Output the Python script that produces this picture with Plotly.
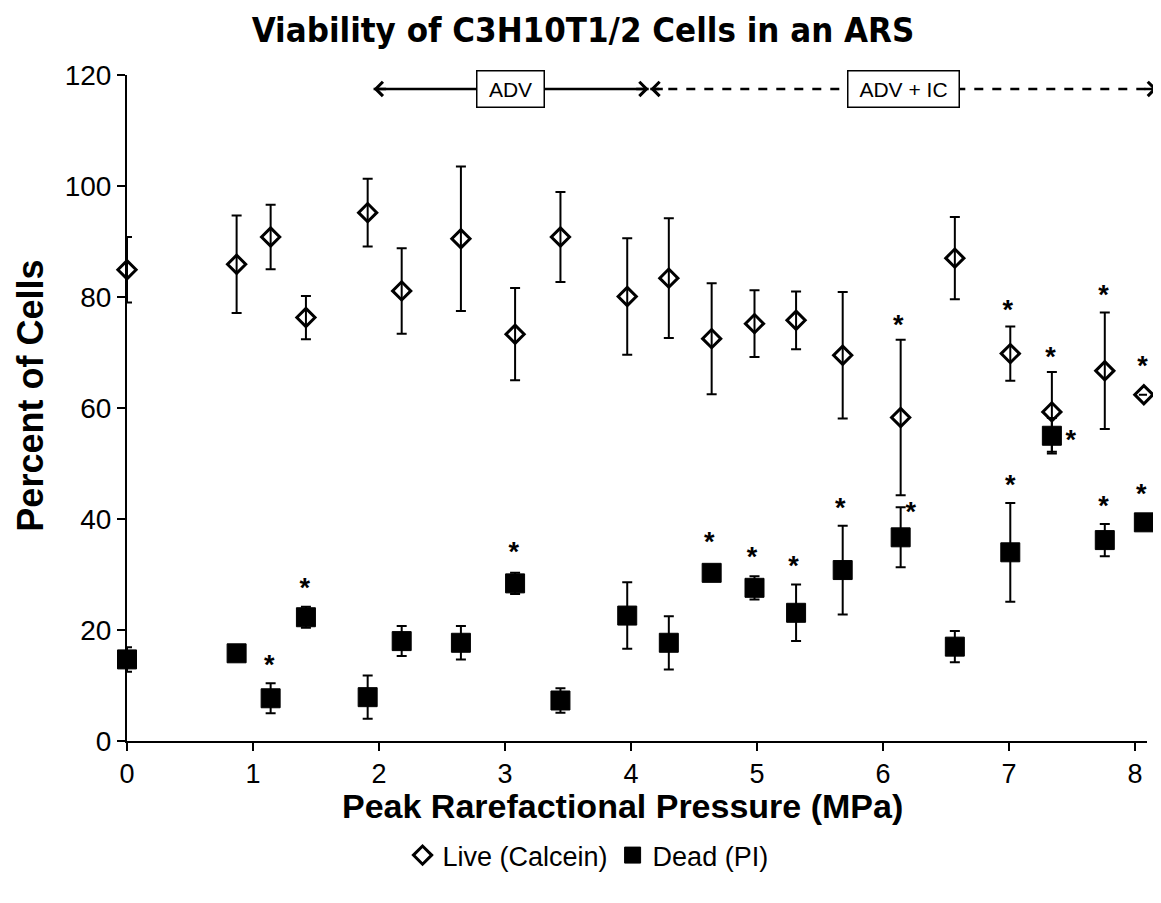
import plotly.graph_objects as go

# ---------------- data ----------------
pressure = [0.0, 0.87, 1.14, 1.42, 1.91, 2.18, 2.65, 3.08, 3.44, 3.97, 4.30,
            4.64, 4.98, 5.31, 5.68, 6.14, 6.57, 7.01, 7.34, 7.76, 8.07]

live = [84.9, 85.9, 90.8, 76.3, 95.2, 81.1, 90.5, 73.3, 90.8, 80.1, 83.4,
        72.5, 75.2, 75.8, 69.5, 58.3, 87.0, 69.8, 59.3, 66.7, 62.4]
live_err = [5.9, 8.8, 5.8, 3.9, 6.1, 7.7, 13.0, 8.3, 8.1, 10.5, 10.8,
            10.0, 6.0, 5.2, 11.4, 14.0, 7.4, 4.9, 7.2, 10.5, 0.0]

dead = [14.7, 15.8, 7.7, 22.3, 7.9, 18.0, 17.7, 28.4, 7.3, 22.6, 17.7,
        30.3, 27.6, 23.1, 30.8, 36.7, 17.0, 34.0, 55.0, 36.2, 39.4]
dead_err = [2.2, 0.8, 2.7, 1.9, 3.9, 2.7, 3.0, 1.9, 2.2, 6.0, 4.8,
            1.0, 2.1, 5.1, 8.0, 5.4, 2.8, 8.9, 3.2, 2.9, 0.5]

# significance stars (position of the "*" marks)
live_star_x = [6.12, 6.99, 7.33, 7.75, 8.06]
live_star_y = [75.7, 78.4, 69.9, 81.1, 68.3]
dead_star_x = [1.13, 1.41, 3.07, 4.62, 4.96, 5.29, 5.66, 6.22, 7.01, 7.49, 7.75, 8.05]
dead_star_y = [14.5, 28.4, 34.8, 36.6, 33.9, 32.3, 42.8, 42.1, 46.9, 55.1, 43.2, 45.3]

x_ticks = [0, 1, 2, 3, 4, 5, 6, 7, 8]
y_ticks = [0, 20, 40, 60, 80, 100, 120]

# regime bands on top
adv_range = [1.957, 4.14]
adv_ic_range = [4.153, 8.175]
band_y = 117.5
adv_label_x = 3.046
adv_ic_label_x = 6.164

title = "Viability of C3H10T1/2 Cells in an ARS"
x_title = "Peak Rarefactional Pressure (MPa)"
y_title = "Percent of Cells"

X_RANGE = [0, 8.095]
Y_RANGE = [0, 120]

FONT = "Liberation Sans, Arial, Helvetica, sans-serif"
NARROW = "Liberation Sans Narrow, Arial Narrow, DejaVu Sans Condensed, Liberation Sans, sans-serif"

# page has an 8px body margin -> figure is 1153 x 895
W, H = 1153, 895
ML, MT, MR = 119, 67, 14
PLOT_H = 666
MB = H - MT - PLOT_H


def xp(v):
    return (v - X_RANGE[0]) / (X_RANGE[1] - X_RANGE[0])


def yp(v):
    return (v - Y_RANGE[0]) / (Y_RANGE[1] - Y_RANGE[0])


fig = go.Figure()

fig.add_trace(go.Scatter(
    x=pressure, y=live, mode="markers", name="Live (Calcein)",
    marker=dict(symbol="diamond-open", size=14, color="black",
                line=dict(width=3, color="black")),
    error_y=dict(type="data", array=live_err, visible=True,
                 color="black", thickness=2, width=5),
    cliponaxis=False,
))

fig.add_trace(go.Scatter(
    x=pressure, y=dead, mode="markers", name="Dead (PI)",
    marker=dict(symbol="square", size=19, color="black",
                line=dict(width=1, color="black")),
    error_y=dict(type="data", array=dead_err, visible=True,
                 color="black", thickness=2, width=5),
    cliponaxis=False,
))

star_font = dict(family=FONT, size=27, color="black", weight="bold")
fig.add_trace(go.Scatter(
    x=live_star_x, y=[v - 1.2 for v in live_star_y], mode="text", text=["*"] * len(live_star_x),
    textfont=star_font, showlegend=False, hoverinfo="skip", cliponaxis=False,
))
fig.add_trace(go.Scatter(
    x=dead_star_x, y=[v - 1.2 for v in dead_star_y], mode="text", text=["*"] * len(dead_star_x),
    textfont=star_font, showlegend=False, hoverinfo="skip", cliponaxis=False,
))

shapes = [
    dict(type="line", xref="paper", yref="paper",
         x0=xp(adv_range[0]), x1=xp(adv_range[1]), y0=yp(band_y), y1=yp(band_y),
         line=dict(color="black", width=2.5)),
    dict(type="line", xref="paper", yref="paper",
         x0=xp(adv_ic_range[0]), x1=xp(adv_ic_range[1]), y0=yp(band_y), y1=yp(band_y),
         line=dict(color="black", width=2.5, dash="dash")),
]

annotations = []
for xv, off in [(adv_range[0], 14), (adv_range[1], -14),
                (adv_ic_range[0], 14), (adv_ic_range[1], -14)]:
    annotations.append(dict(
        xref="paper", yref="paper", x=xp(xv), y=yp(band_y), text="",
        showarrow=True, ax=off, ay=0, arrowhead=4, arrowsize=1.1,
        arrowwidth=2.5, arrowcolor="black", standoff=0, startstandoff=0,
    ))
for lbl, xv, w in [("ADV", adv_label_x, 62), ("ADV + IC", adv_ic_label_x, 106)]:
    annotations.append(dict(
        xref="x", yref="y", x=xv, y=band_y, text=lbl, showarrow=False,
        font=dict(family=FONT, size=21, color="black"),
        bgcolor="white", bordercolor="black", borderwidth=1.5,
        borderpad=2, width=w, height=31,
    ))

# axis titles placed as annotations
annotations.append(dict(
    xref="paper", yref="paper", x=0.4856, y=-0.098, xanchor="center", yanchor="middle",
    text=x_title, showarrow=False,
    font=dict(family=FONT, size=34, color="black", weight="bold"),
))
annotations.append(dict(
    xref="paper", yref="paper", x=-0.0948, y=0.519, xanchor="center", yanchor="middle",
    text=y_title, showarrow=False, textangle=-90,
    font=dict(family=FONT, size=36, color="black", weight="bold"),
))

fig.update_layout(
    width=W, height=H,
    paper_bgcolor="white", plot_bgcolor="white",
    margin=dict(l=ML, r=MR, t=MT, b=MB),
    font=dict(family=FONT, color="black"),
    title=dict(text=title, x=(583 - 8) / W, xref="container", xanchor="center",
               y=1 - 22 / H, yref="container", yanchor="middle",
               font=dict(family=NARROW, size=34.5, color="black", weight="bold")),
    showlegend=True,
    legend=dict(orientation="h", x=0.452, xanchor="center", y=-0.172, yanchor="middle",
                font=dict(family=FONT, size=27, color="black"),
                itemwidth=30, bgcolor="rgba(0,0,0,0)"),
    shapes=shapes,
    annotations=annotations,
)

fig.update_xaxes(
    range=X_RANGE, tickvals=x_ticks, ticktext=[str(t) for t in x_ticks],
    showline=True, linecolor="black", linewidth=2, ticks="outside", ticklen=8,
    tickwidth=1.8, tickcolor="black", showgrid=False, zeroline=False,
    tickfont=dict(family=FONT, size=27, color="black"),
)
fig.update_yaxes(
    range=Y_RANGE, tickvals=y_ticks, ticktext=[str(t) for t in y_ticks],
    showline=True, linecolor="black", linewidth=2, ticks="outside", ticklen=8,
    tickwidth=1.8, tickcolor="black", showgrid=False, zeroline=False,
    tickfont=dict(family=FONT, size=28, color="black"),
)

fig.write_html("out.html")
